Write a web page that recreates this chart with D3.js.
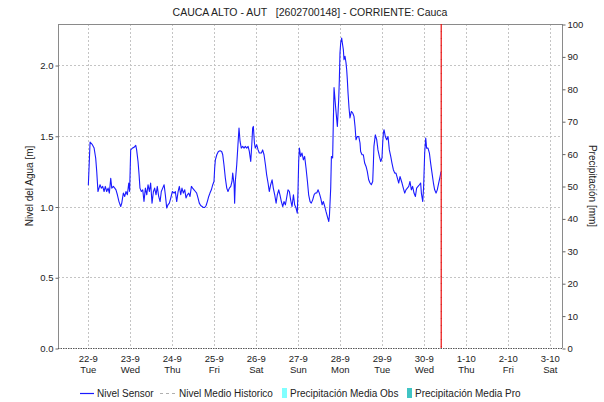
<!DOCTYPE html>
<html>
<head>
<meta charset="utf-8">
<script src="https://cdn.jsdelivr.net/npm/d3@7"></script>
<style>
  body { margin: 0; background: #fff; }
  svg { display: block; }
  text { font-family: "Liberation Sans", Arial, sans-serif; fill: #222; }
</style>
</head>
<body>
<svg id="chart" width="604" height="402"></svg>
<script>
// ---- data ----
const chartTitle = "CAUCA ALTO - AUT   [2602700148] - CORRIENTE: Cauca";
const levelAxisTitle = "Nivel del Agua [m]";
const rainAxisTitle = "Precipitación [mm]";

const windowStart = "2020-09-21T06:40:00Z";
const windowEnd = "2020-10-03T06:40:00Z";
const seriesOrigin = "2020-09-22T00:00:00Z";   // hour 0 of the sensor series
const nowMark = "2020-09-30T09:40:00Z";        // current-time marker

const levelTicks = [0, 0.5, 1.0, 1.5, 2.0];
const rainTicks = [0, 10, 20, 30, 40, 50, 60, 70, 80, 90, 100];

// Nivel Sensor: hours after seriesOrigin, and water level [m]
const sensorHours = [
  0.0, 1.0, 2.3, 3.3, 4.2, 4.8, 5.5, 6.1, 6.7, 7.4, 8.2, 9.0, 9.7, 10.5, 11.3, 12.0,
  12.8, 13.4, 14.3, 15.1, 15.8, 16.6, 17.5, 18.5, 19.1, 20.0, 20.8, 21.5, 22.3, 23.1, 23.6,
  24.2, 25.2, 26.1, 27.1, 27.6, 28.4, 29.0, 29.5, 30.3, 31.1, 31.8, 32.6, 33.4, 34.1, 34.9,
  35.6, 36.4, 37.2, 37.9, 38.7, 39.4, 40.2, 41.0, 41.7, 42.5, 43.3, 44.0, 44.8, 45.5, 46.3,
  47.1, 48.0, 49.0, 49.7, 50.5, 51.3, 52.0, 52.8, 53.5, 54.3, 55.1, 55.8, 56.6, 57.4, 58.1,
  58.9, 59.6, 60.4, 61.2, 61.9, 62.7, 63.4, 64.2, 65.0, 65.7, 66.5, 67.3, 68.0, 68.8, 69.5,
  70.3, 71.1, 71.8, 72.2, 72.6, 73.4, 74.3, 75.3, 76.2, 76.8, 77.5, 78.3, 79.1, 79.8, 80.6,
  81.4, 82.1, 82.5, 83.3, 83.6, 84.0, 84.8, 85.5, 86.1, 86.7, 87.4, 88.2, 89.0, 89.7, 90.5,
  91.3, 92.0, 92.8, 93.4, 93.9, 94.3, 94.9, 95.4, 96.2, 97.0, 97.7, 98.9, 99.6, 100.4, 101.2,
  101.9, 102.7, 103.4, 104.2, 105.0, 105.7, 106.5, 107.3, 108.0, 108.8, 109.5, 110.3, 111.1,
  111.8, 112.6, 113.3, 114.1, 114.9, 115.6, 116.4, 117.2, 117.9, 118.7, 119.4, 119.8, 120.2,
  120.6, 121.3, 122.1, 122.9, 123.6, 124.4, 125.2, 125.9, 126.7, 127.4, 128.2, 129.0, 129.7,
  130.5, 131.3, 132.0, 132.8, 133.6, 134.3, 135.1, 135.8, 136.6, 137.4, 137.8, 138.5, 138.9,
  139.6, 140.0, 140.4, 141.35, 142.3, 143.06, 143.44, 143.8, 144.2, 144.77, 145.15, 145.72,
  146.1, 146.68, 147.25, 147.63, 148.0, 148.4, 148.97, 149.5, 150.3, 151.06, 151.8, 152.4,
  152.96, 153.7, 154.5, 155.25, 155.6, 156.4, 157.15, 157.9, 158.7, 159.4, 160.2, 160.96,
  161.7, 162.5, 162.9, 163.2, 164.0, 164.8, 165.5, 166.3, 167.1, 167.8, 168.2, 168.6, 168.96,
  169.7, 170.5, 171.25, 172.0, 172.8, 173.5, 174.3, 175.1, 175.8, 176.6, 177.35, 178.1,
  179.25, 180.0, 180.8, 181.5, 182.3, 183.1, 183.8, 184.6, 185.3, 186.1, 186.9, 187.6, 188.4,
  189.2, 189.9, 190.3, 191.1, 191.6, 192.2, 192.8, 193.3, 194.1, 194.9, 195.6, 196.4, 197.2,
  197.9, 198.7, 199.4, 200.2, 201.0, 201.5
];
const sensorLevels = [
  1.15, 1.456, 1.437, 1.413, 1.343, 1.248, 1.106, 1.13, 1.154, 1.13, 1.142, 1.106, 1.142, 1.106, 1.13, 1.095,
  1.20, 1.13, 1.142, 1.13, 1.118, 1.083, 1.035, 1.00, 1.024, 1.095, 1.071, 1.106, 1.083, 1.166, 1.106,
  1.40, 1.413, 1.418, 1.432, 1.40, 1.318, 1.224, 1.13, 1.106, 1.118, 1.035, 1.13, 1.083, 1.154, 1.106,
  1.166, 1.024, 1.106, 1.13, 1.083, 1.142, 1.071, 1.035, 1.106, 1.13, 1.154, 1.083, 0.989, 1.012, 1.024,
  1.06, 1.106, 1.095, 1.106, 1.035, 1.106, 1.142, 1.083, 1.13, 1.095, 1.118, 1.06, 1.083, 1.095, 1.071,
  1.142, 1.13, 1.118, 1.106, 1.095, 1.06, 1.024, 1.007, 1.00, 0.993, 0.993, 1.007, 1.035, 1.071, 1.095,
  1.118, 1.154, 1.177, 1.272, 1.33, 1.366, 1.389, 1.394, 1.389, 1.366, 1.295, 1.20, 1.13, 1.106, 1.13,
  1.142, 1.177, 1.236, 1.154, 1.024, 1.177, 1.295, 1.437, 1.555, 1.46, 1.413, 1.425, 1.413, 1.425, 1.413,
  1.425, 1.389, 1.318, 1.437, 1.555, 1.566, 1.449, 1.413, 1.437, 1.40, 1.378, 1.378, 1.40, 1.366, 1.295,
  1.224, 1.166, 1.106, 1.154, 1.189, 1.13, 1.083, 1.024, 1.083, 1.118, 1.083, 1.035, 1.00,
  1.035, 1.012, 1.06, 1.118, 1.106, 1.047, 1.00, 1.083, 1.012, 0.989, 0.953, 1.106, 1.318,
  1.413, 1.354, 1.378, 1.33, 1.354, 1.272, 1.177, 1.083, 1.035, 1.024, 1.047, 1.083, 1.095,
  1.095, 1.118, 1.095, 1.06, 1.012, 1.035, 1.00, 0.965, 0.929, 0.894, 0.941, 1.13, 1.354,
  1.343, 1.60, 1.84, 1.696, 1.566, 1.755, 1.897, 2.085, 2.156, 2.19, 2.156, 2.109,
  2.038, 2.062, 2.015, 1.967, 1.897, 1.802, 1.696, 1.626, 1.672, 1.661, 1.637, 1.566,
  1.472, 1.495, 1.495, 1.449, 1.389, 1.366, 1.366, 1.307, 1.283, 1.248, 1.189, 1.166,
  1.154, 1.177, 1.307, 1.425, 1.507, 1.472, 1.40, 1.354, 1.318, 1.343, 1.449, 1.519, 1.543,
  1.495, 1.472, 1.495, 1.40, 1.354, 1.307, 1.26, 1.236, 1.236, 1.20, 1.166, 1.212,
  1.166, 1.13, 1.095, 1.118, 1.13, 1.142, 1.177, 1.118, 1.142, 1.095, 1.071, 1.13, 1.142,
  1.154, 1.166, 1.095, 1.035, 1.142, 1.378, 1.484, 1.413, 1.413, 1.378, 1.307, 1.236, 1.166,
  1.118, 1.095, 1.118, 1.166, 1.212, 1.245
];

const legendNames = ["Nivel Sensor", "Nivel Medio Historico", "Precipitación Media Obs", "Precipitación Media Pro"];
const legendColors = ["#1a1aff", "#b0b0b0", "#80ffff", "#40c4c4"];

// ---- layout ----
const svg = d3.select("#chart");
const plot = { left: 58, right: 562, top: 24, bottom: 348 };
const origin = new Date(seriesOrigin).getTime();

const x = d3.scaleUtc()
  .domain([new Date(windowStart), new Date(windowEnd)])
  .range([plot.left, plot.right]);
const yLevel = d3.scaleLinear().domain([0, 2.29]).range([plot.bottom, plot.top]);
const yRain = d3.scaleLinear().domain([0, 100]).range([plot.bottom, plot.top]);

const dayTicks = d3.utcDay.range(new Date("2020-09-22T00:00:00Z"), new Date("2020-10-03T12:00:00Z"));
const fmtDate = d3.utcFormat("%-d-%-m");
const fmtDay = d3.utcFormat("%a");

// grid
const grid = svg.append("g").attr("stroke", "#c4c4c4").attr("stroke-dasharray", "2,2").attr("stroke-width", 1);
grid.selectAll("line.v").data(dayTicks).join("line")
  .attr("x1", d => Math.round(x(d)) + 0.5).attr("x2", d => Math.round(x(d)) + 0.5)
  .attr("y1", plot.top).attr("y2", plot.bottom);
grid.selectAll("line.h").data(levelTicks.filter(v => v > 0)).join("line")
  .attr("x1", plot.left).attr("x2", plot.right)
  .attr("y1", d => Math.round(yLevel(d)) + 0.5).attr("y2", d => Math.round(yLevel(d)) + 0.5);

// frame
const frame = svg.append("g").attr("stroke", "#8a8a8a").attr("stroke-width", 1).attr("fill", "none");
frame.append("line").attr("x1", plot.left + 0.5).attr("x2", plot.left + 0.5).attr("y1", plot.top).attr("y2", plot.bottom);
frame.append("line").attr("x1", plot.right + 0.5).attr("x2", plot.right + 0.5).attr("y1", plot.top).attr("y2", plot.bottom);
frame.append("line").attr("x1", plot.left).attr("x2", plot.right + 1).attr("y1", plot.top + 0.5).attr("y2", plot.top + 0.5);
svg.append("line").attr("x1", plot.left).attr("x2", plot.right + 1)
  .attr("y1", plot.bottom + 0.5).attr("y2", plot.bottom + 0.5)
  .attr("stroke", "#555").attr("stroke-dasharray", "1.5,1");

// left axis
const leftAxis = d3.axisLeft(yLevel).tickValues(levelTicks).tickFormat(d3.format(".1f")).tickSize(3).tickPadding(2);
const gL = svg.append("g").attr("transform", `translate(${plot.left + 0.5},0.5)`).call(leftAxis);
gL.select(".domain").remove();
gL.selectAll("line").attr("stroke", "#666");
gL.selectAll("text").style("font-size", "9.5px").attr("fill", "#222");

// right axis
const rightAxis = d3.axisRight(yRain).tickValues(rainTicks).tickSize(3).tickPadding(2);
const gR = svg.append("g").attr("transform", `translate(${plot.right + 0.5},0.5)`).call(rightAxis);
gR.select(".domain").remove();
gR.selectAll("line").attr("stroke", "#666");
gR.selectAll("text").style("font-size", "9.5px").attr("fill", "#222");

// bottom axis: date and weekday on two lines
const gB = svg.append("g");
const tk = gB.selectAll("g").data(dayTicks).join("g").attr("transform", d => `translate(${x(d)},0)`);
tk.append("text").attr("y", 362).attr("text-anchor", "middle").style("font-size", "9.5px").text(d => fmtDate(d));
tk.append("text").attr("y", 373).attr("text-anchor", "middle").style("font-size", "9.5px").text(d => fmtDay(d));

// sensor level line
const sensor = sensorHours.map((h, i) => ({ t: new Date(origin + h * 3600e3), v: sensorLevels[i] }));
svg.append("path").datum(sensor)
  .attr("fill", "none").attr("stroke", legendColors[0]).attr("stroke-width", 1.1)
  .attr("stroke-linejoin", "round")
  .attr("d", d3.line().x(d => x(d.t)).y(d => yLevel(d.v)));

// current-time marker
const nowX = x(new Date(nowMark));
svg.append("line").attr("x1", nowX).attr("x2", nowX).attr("y1", plot.top).attr("y2", plot.bottom)
  .attr("stroke", "#f03030").attr("stroke-width", 1.4);
svg.append("line").attr("x1", nowX).attr("x2", nowX).attr("y1", plot.top).attr("y2", plot.bottom)
  .attr("stroke", "#b01010").attr("stroke-width", 0.5).attr("stroke-dasharray", "1,6");

// titles
svg.append("text").attr("x", (plot.left + plot.right) / 2).attr("y", 16)
  .attr("text-anchor", "middle").style("font-size", "10.5px").style("white-space", "pre")
  .text(chartTitle);
svg.append("text").attr("transform", `translate(33,${(plot.top + plot.bottom) / 2}) rotate(-90)`)
  .attr("text-anchor", "middle").style("font-size", "10px").text(levelAxisTitle);
svg.append("text").attr("transform", `translate(589,${(plot.top + plot.bottom) / 2}) rotate(90)`)
  .attr("text-anchor", "middle").style("font-size", "10px").text(rainAxisTitle);

// legend
const lg = svg.append("g").style("font-size", "10px");
const legendX = [80, 160, 282, 407];
const ly = 393;
lg.append("line").attr("x1", legendX[0]).attr("x2", legendX[0] + 14).attr("y1", ly + 0.5).attr("y2", ly + 0.5)
  .attr("stroke", legendColors[0]).attr("stroke-width", 1.2);
lg.append("line").attr("x1", legendX[1]).attr("x2", legendX[1] + 16).attr("y1", ly + 0.5).attr("y2", ly + 0.5)
  .attr("stroke", legendColors[1]).attr("stroke-dasharray", "3,3");
lg.append("rect").attr("x", legendX[2]).attr("y", ly - 5).attr("width", 5).attr("height", 10).attr("fill", legendColors[2]);
lg.append("rect").attr("x", legendX[3]).attr("y", ly - 5).attr("width", 5).attr("height", 10).attr("fill", legendColors[3]);
const textX = [97, 179, 290, 415];
lg.selectAll("text").data(legendNames).join("text")
  .attr("x", (d, i) => textX[i]).attr("y", ly + 4).text(d => d);
</script>
</body>
</html>
